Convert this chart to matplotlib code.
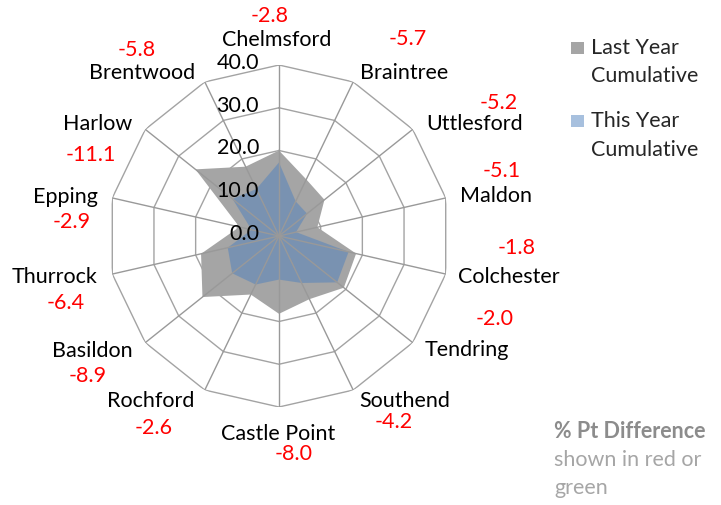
import numpy as np
import matplotlib
matplotlib.use('Agg')
import matplotlib.pyplot as plt
from matplotlib.patches import Rectangle

# ---------------- data ----------------
categories = ['Chelmsford', 'Braintree', 'Uttlesford', 'Maldon', 'Colchester',
              'Tendring', 'Southend', 'Castle Point', 'Rochford', 'Basildon',
              'Thurrock', 'Epping', 'Harlow', 'Brentwood']
last_year = [20.0, 14.7, 13.6, 9.2, 18.5, 19.4, 16.4, 18.2, 15.2, 22.9, 18.7, 9.5, 25.0, 18.0]
this_year = [17.2, 9.0, 8.4, 4.1, 16.7, 17.4, 12.2, 10.2, 12.6, 14.0, 12.3, 6.6, 13.9, 12.2]
pt_diff = ['-2.8', '-5.7', '-5.2', '-5.1', '-1.8', '-2.0', '-4.2', '-8.0',
           '-2.6', '-8.9', '-6.4', '-2.9', '-11.1', '-5.8']
ring_values = [0, 10, 20, 30, 40]
ring_labels = ['0.0', '10.0', '20.0', '30.0', '40.0']
series_names = [['Last Year', 'Cumulative'], ['This Year', 'Cumulative']]
note_title = '% Pt Difference'
note_body = ['shown in red or', 'green']

# ---------------- layout (pixels) ----------------
W, H = 721, 505
cx, cy, R = 279, 236, 171
cat_label_px = [(277, 40), (404, 73), (475, 124), (496, 196), (509, 277),
                (467, 350), (405, 401), (278, 434), (151, 401), (92, 351),
                (55, 277), (65, 197), (98, 124), (142, 73)]
diff_label_px = [(270, 16), (408, 39), (499, 103), (502, 171), (517, 248),
                 (495, 319), (394, 422), (294, 454), (154, 428), (88, 376),
                 (66, 303), (72, 222), (91, 155), (137, 50)]

FONT = ['Lato', 'DejaVu Sans']
plt.rcParams['font.family'] = FONT
FS = 15.5


def fx(x):
    return x / W


def fy(y):
    return 1 - y / H


fig = plt.figure(figsize=(W / 100, H / 100), dpi=100)
fig.patch.set_facecolor('white')
ax = fig.add_axes([(cx - R) / W, 1 - (cy + R) / H, 2 * R / W, 2 * R / H], projection='polar')
ax.set_theta_zero_location('N')
ax.set_theta_direction(-1)
ax.set_ylim(0, 40)
ax.grid(False)
ax.spines['polar'].set_visible(False)
ax.set_xticks([])
ax.set_yticks([])
ax.patch.set_alpha(0)

n = len(categories)
theta = np.arange(n) * 2 * np.pi / n
closed = np.append(theta, theta[0])

for rv in ring_values[1:]:
    ax.plot(closed, [rv] * (n + 1), color='#A3A3A3', lw=1.0, zorder=1)

ax.fill(theta, last_year, color='#A5A5A5', lw=0, zorder=2)
ax.fill(theta, this_year, color='#4F81BD', alpha=0.5, lw=0, zorder=3)

for t in theta:
    ax.plot([t, t], [0, ring_values[-1]], color='#999999', lw=1.0, zorder=4)

for rv, lab in zip(ring_values, ring_labels):
    ax.annotate(lab, xy=(0, rv), xytext=(-20, 2), textcoords='offset pixels',
                ha='right', va='center', fontsize=FS, color='black', zorder=5)

for (x, y), lab in zip(cat_label_px, categories):
    fig.text(fx(x), fy(y), lab, ha='center', va='center', fontsize=FS, color='black')

for (x, y), lab in zip(diff_label_px, pt_diff):
    fig.text(fx(x), fy(y), lab, ha='center', va='center', fontsize=FS, color='#FF0000')

# legend
leg_colors = ['#A5A5A5', '#A7C0DE']
leg_y = [48, 121]
for c, y0, lines in zip(leg_colors, leg_y, series_names):
    fig.add_artist(Rectangle((fx(571), fy(y0 + 6)), 13 / W, 12 / H,
                             transform=fig.transFigure, color=c, lw=0))
    for k, line in enumerate(lines):
        fig.text(fx(591), fy(y0 + 28.5 * k), line, ha='left', va='center',
                 fontsize=FS, color='#262626')

fig.text(fx(554), fy(432), note_title, ha='left', va='center', fontsize=FS,
         color='#8C8C8C', fontweight='bold')
for k, line in enumerate(note_body):
    fig.text(fx(554), fy(460 + 28 * k), line, ha='left', va='center',
             fontsize=FS, color='#A6A6A6')

fig.savefig('out.png', dpi=100)
